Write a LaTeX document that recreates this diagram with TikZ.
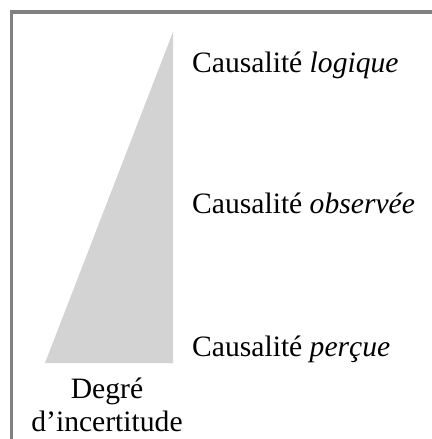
\documentclass[tikz,border=0pt]{standalone}
\usepackage{fontspec}
\setmainfont{Liberation Serif}
\usetikzlibrary{positioning}
\definecolor{cframe}{HTML}{808080}
\definecolor{cwedge}{HTML}{D3D3D3}
\tikzset{
  every picture/.style={x=1pt, y=-1pt},
  level/.style={font=\fontsize{29.6}{35}\selectfont, anchor=base west, inner sep=0pt},
  axis/.style={font=\fontsize{29.6}{33}\selectfont, align=center, inner sep=0pt},
}

\begin{document}
\begin{tikzpicture}
  \useasboundingbox (0,0) rectangle (431,439);
  % frame, cut off by the page on the right and at the bottom
  \draw[cframe, line width=3.5pt] (11.5,460) -- (11.5,12) -- (450,12);
  % wedge
  \coordinate (apex) at (173,32);
  \coordinate (foot) at (173,363);
  \coordinate (toe) at (45,363);
  \fill[cwedge] (toe) -- (apex) -- (foot) -- cycle;
  % levels
  \node[level] (logique) at (192,72) {Causalité \textit{logique}};
  \node[level] (observee) at (192,213) {Causalité \textit{observée}};
  \node[level] (percue) at (192,356) {Causalité \textit{perçue}};
  % axis label
  \node[axis, anchor=base] (degre) at (107,431) {Degré\\d’incertitude};
\end{tikzpicture}
\end{document}
